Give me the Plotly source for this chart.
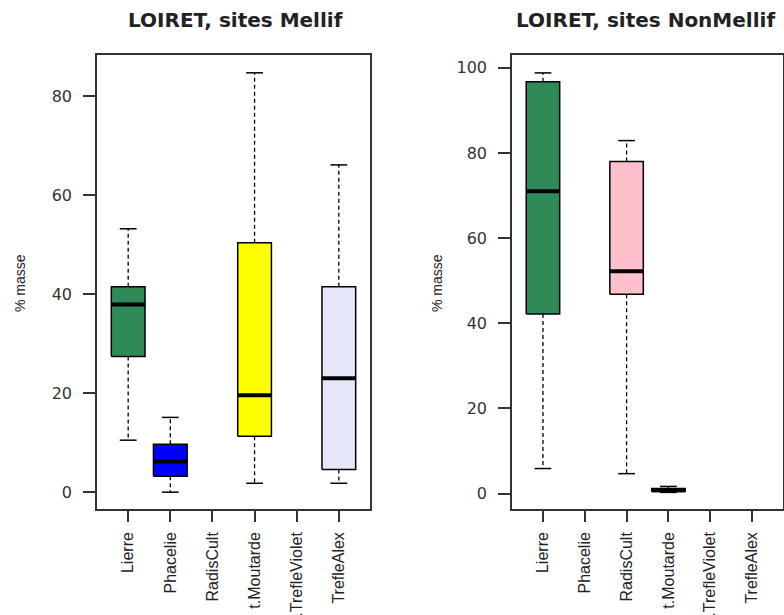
import plotly.graph_objects as go

categories = ["Lierre", "Phacelie", "RadisCult", "t.Moutarde", "t.TrefleViolet", "TrefleAlex"]

# Left panel: LOIRET, sites Mellif  (None = no data)
mellif_low    = [10.5, 0.0, None, 1.8, None, 1.8]
mellif_q1     = [27.4, 3.2, None, 11.3, None, 4.6]
mellif_median = [37.9, 6.2, None, 19.6, None, 23.0]
mellif_q3     = [41.5, 9.7, None, 50.4, None, 41.5]
mellif_high   = [53.2, 15.1, None, 84.7, None, 66.1]

# Right panel: LOIRET, sites NonMellif
non_low    = [5.9, None, 4.7, 0.3, None, None]
non_q1     = [42.2, None, 46.8, 0.5, None, None]
non_median = [71.0, None, 52.2, 0.8, None, None]
non_q3     = [96.7, None, 78.0, 1.2, None, None]
non_high   = [98.8, None, 82.9, 1.7, None, None]

colors = ["#2E8B57", "#0000FF", "#FFC0CB", "#FFFF00", "#E6E6FA", "#E6E6FA"]

titles = ["LOIRET, sites Mellif", "LOIRET, sites NonMellif"]
ylabel = "% masse"

FONT = "Liberation Sans, Arial, sans-serif"
TFONT = "DejaVu Sans, Arial, sans-serif"
HALF = 0.4      # half box width
CAP = 0.2       # half staple width

fig = go.Figure()


def add_panel(low, q1, med, q3, high, xa, ya):
    for i, cat in enumerate(categories):
        if med[i] is None:
            continue
        c = i + 1
        # whiskers (dashed)
        fig.add_trace(go.Scatter(
            x=[c, c, None, c, c], y=[q3[i], high[i], None, q1[i], low[i]],
            mode="lines", line=dict(color="black", width=1.3, dash="4px,3px"),
            xaxis=xa, yaxis=ya, showlegend=False, hoverinfo="skip"))
        # staples
        fig.add_trace(go.Scatter(
            x=[c - CAP, c + CAP, None, c - CAP, c + CAP],
            y=[high[i], high[i], None, low[i], low[i]],
            mode="lines", line=dict(color="black", width=1.5),
            xaxis=xa, yaxis=ya, showlegend=False, hoverinfo="skip"))
        # box
        fig.add_trace(go.Scatter(
            x=[c - HALF, c + HALF, c + HALF, c - HALF, c - HALF],
            y=[q1[i], q1[i], q3[i], q3[i], q1[i]],
            mode="lines", fill="toself", fillcolor=colors[i],
            line=dict(color="black", width=1.5),
            xaxis=xa, yaxis=ya, showlegend=False, hoverinfo="skip"))
        # median
        fig.add_trace(go.Scatter(
            x=[c - HALF, c + HALF], y=[med[i], med[i]],
            mode="lines", line=dict(color="black", width=4),
            xaxis=xa, yaxis=ya, showlegend=False, name=cat))


add_panel(mellif_low, mellif_q1, mellif_median, mellif_q3, mellif_high, "x", "y")
add_panel(non_low, non_q1, non_median, non_q3, non_high, "x2", "y2")

xcommon = dict(
    tickmode="array", tickvals=list(range(1, len(categories) + 1)), ticktext=categories,
    tickangle=-90, ticks="outside", ticklen=11, tickwidth=1.5, tickcolor="#333",
    showline=True, mirror=True, linecolor="#333", linewidth=1.5,
    showgrid=False, zeroline=False, range=[0.26, 6.74], ticklabelstandoff=4,
    tickfont=dict(family=FONT, size=16, color="#222"),
)
ycommon = dict(
    ticks="outside", ticklen=12, tickwidth=1.5, tickcolor="#333",
    showline=True, mirror=True, linecolor="#333", linewidth=1.5,
    showgrid=False, zeroline=False, dtick=20, ticklabelstandoff=8,
    tickfont=dict(family=TFONT, size=16, color="#333"),
)

fig.update_layout(
    width=784, height=615,
    margin=dict(l=0, r=0, t=0, b=0, autoexpand=False),
    paper_bgcolor="white", plot_bgcolor="white",
    xaxis=dict(domain=[97 / 784, 370 / 784], anchor="y", **xcommon),
    yaxis=dict(domain=[1 - 509 / 615, 1 - 55 / 615], anchor="x", range=[-3.4, 88.3], **ycommon),
    xaxis2=dict(domain=[512 / 784, 783 / 784], anchor="y2", **xcommon),
    yaxis2=dict(domain=[1 - 509 / 615, 1 - 55 / 615], anchor="x2", range=[-3.6, 103.0], **ycommon),
    annotations=[
        dict(text="<b>%s</b>" % titles[0], x=235 / 784, y=1 - 20 / 615, xref="paper", yref="paper",
             xanchor="center", yanchor="middle",
             showarrow=False, font=dict(family=TFONT, size=20, color="#222")),
        dict(text="<b>%s</b>" % titles[1], x=645 / 784, y=1 - 20 / 615, xref="paper", yref="paper",
             xanchor="center", yanchor="middle",
             showarrow=False, font=dict(family=TFONT, size=20, color="#222")),
        dict(text=ylabel, x=20 / 784, y=1 - 283 / 615, xref="paper", yref="paper",
             xanchor="center", yanchor="middle",
             textangle=-90, showarrow=False, font=dict(family=FONT, size=14, color="#222")),
        dict(text=ylabel, x=437 / 784, y=1 - 283 / 615, xref="paper", yref="paper",
             xanchor="center", yanchor="middle",
             textangle=-90, showarrow=False, font=dict(family=FONT, size=14, color="#222")),
    ],
)

fig.write_html("out.html", config={"displayModeBar": False},
               post_script="document.body.style.margin='0';")
